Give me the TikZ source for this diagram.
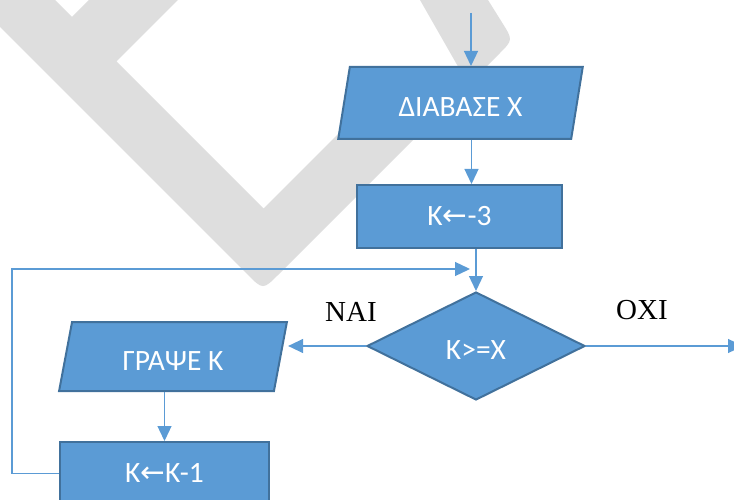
\documentclass[tikz,border=0pt]{standalone}
\usepackage{fontspec}
\setmainfont{Carlito}
\newfontfamily\serifgr{Liberation Serif}
\newfontfamily\arrowfont{DejaVu Sans}
\usetikzlibrary{shapes.geometric,arrows.meta}
\definecolor{boxfill}{HTML}{5B9BD5}
\definecolor{boxline}{HTML}{41719C}
\definecolor{wmark}{HTML}{DEDEDE}
\begin{document}
\begin{tikzpicture}[x=1pt,y=-1pt,
  txt/.style={text=white,font=\fontsize{29.5}{33}\selectfont},
  low/.style={text height=27pt,text depth=0pt},
  proc/.style={rectangle,fill=boxfill,draw=boxline,line width=2pt,inner sep=0pt,txt},
  io/.style={trapezium,trapezium stretches=true,trapezium left angle=76.5,
    trapezium right angle=103.5,fill=boxfill,draw=boxline,line width=2pt,inner sep=0pt,txt,low},
  decis/.style={diamond,fill=boxfill,draw=boxline,line width=2pt,inner sep=0pt,txt,low},
  conn/.style={draw=boxfill,line width=1.3pt,-{Triangle[length=15pt,width=14pt]}},
  lbl/.style={text=black,font=\serifgr\fontsize{29}{32}\selectfont,inner sep=0pt}]
\useasboundingbox (0,0) rectangle (734,500);
\clip (0,0) rectangle (734,500);
% watermark
\fill[wmark] (-47,-20) -- (35,-20) -- (72,17) -- (109,-20) -- (198,-20) -- (116.5,61.5)
  -- (263.5,208.5) -- (345,127) -- (460,70) -- (408.6,-20) -- (475.5,-20)
  -- (502.4,23) .. controls (513,40) .. (498.9,54.1)
  -- (278.6,274.4) .. controls (263,290) .. (247.4,274.4) -- cycle;
% nodes
\node[io,minimum width=245pt,minimum height=72pt] (read) at (460.5,103) {ΔΙΑΒΑΣΕ Χ};
\node[proc,minimum width=205pt,minimum height=63pt] (init) at (459.5,216.5) {Κ{\arrowfont ←}-3};
\node[decis,minimum width=218pt,minimum height=108pt] (dec) at (476,346) {Κ>=Χ};
\node[io,minimum width=228pt,minimum height=69pt] (print) at (173,356.5) {ΓΡΑΨΕ Κ};
\node[proc,minimum width=209pt,minimum height=63pt] (upd) at (164.5,473.5) {Κ{\arrowfont ←}Κ-1};
\node[lbl] (yes) at (351,311.5) {ΝΑΙ};
\node[lbl] (no) at (642,310.5) {ΟΧΙ};
\coordinate (entry) at (471,13);
\coordinate (exit) at (743,346);
\coordinate (lc1) at (12,269);
\coordinate (lc2) at (470,269);
% connectors
\draw[conn] (entry) -- (entry |- read.north);
\draw[conn] ([xshift=11pt]read.south) -- ([xshift=11pt]read.south |- init.north);
\draw[conn] (dec.north |- init.south) -- (dec.north);
\draw[conn] (dec.east) -- (exit);
\draw[conn] (dec.west) -- (dec.west -| print.top right corner);
\draw[conn] (upd.north |- print.south) -- (upd.north);
\draw[conn] (upd.west) -| (lc1) -- (lc2);
\end{tikzpicture}
\end{document}
